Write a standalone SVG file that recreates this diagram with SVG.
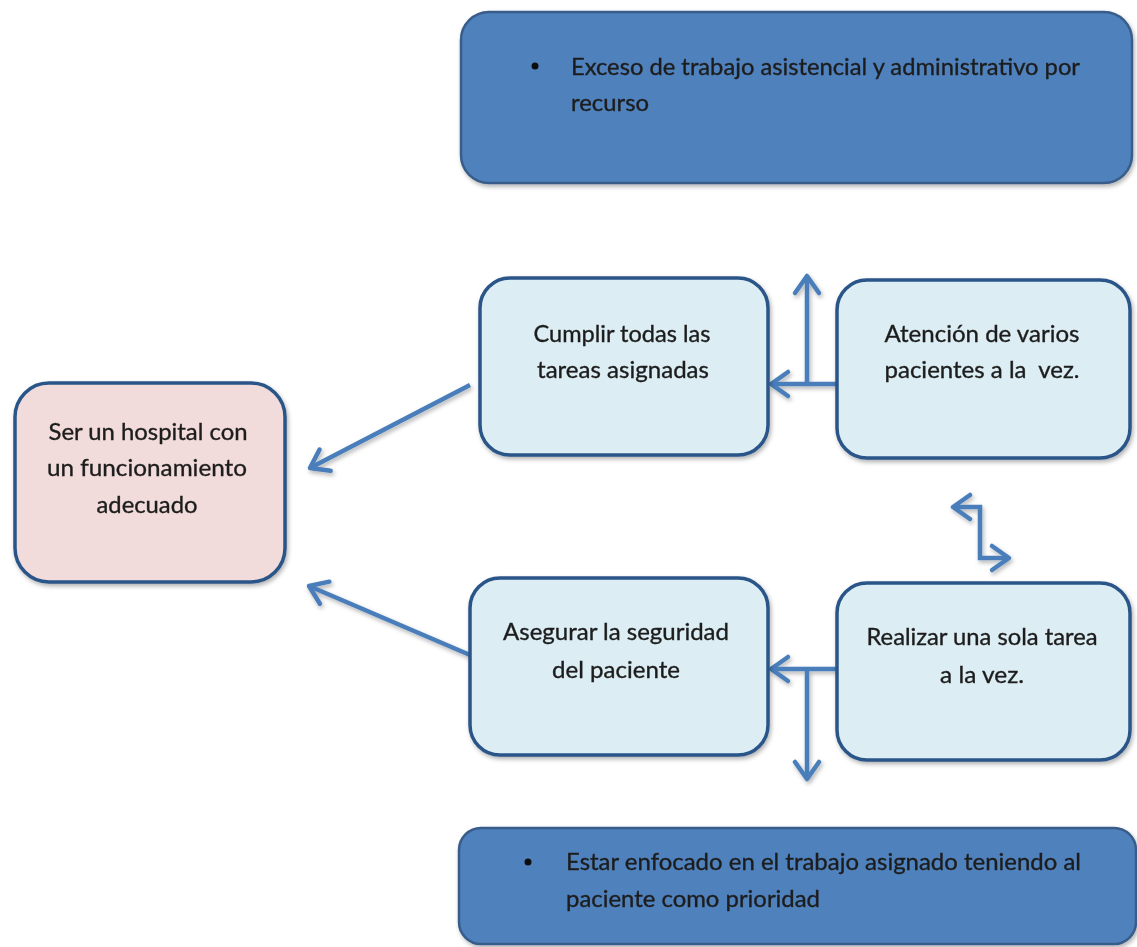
<svg xmlns="http://www.w3.org/2000/svg" width="1137" height="947" viewBox="0 0 1137 947">
  <style>
    .banner { fill: #4F81BD; stroke: #385D8A; stroke-width: 2.5; }
    .step { fill: #DCEEF4; stroke: #2B5588; stroke-width: 3.5; }
    .goal { fill: #F2DCDB; stroke: #2B5588; stroke-width: 3.5; }
    .label { font-family: Lato, "Liberation Sans", sans-serif; font-size: 23px; fill: #1E1E1E; stroke: #1E1E1E; stroke-width: 0.35; }
    .mid { text-anchor: middle; }
    .link { fill: none; stroke: #4A7EBB; stroke-width: 4.5; stroke-linejoin: miter; }
  </style>
  <defs>
    <filter id="shadow" x="-10%" y="-10%" width="130%" height="130%">
      <feDropShadow dx="1.5" dy="2.5" stdDeviation="2" flood-color="#000" flood-opacity="0.3"/>
    </filter>
    <marker id="head" markerUnits="userSpaceOnUse" viewBox="-20 -14 24 28" refX="0" refY="0" markerWidth="24" markerHeight="28" orient="auto-start-reverse" overflow="visible">
      <path d="M-17,-12 L0,0 L-17,12" fill="none" stroke="#4A7EBB" stroke-width="4.5" stroke-linecap="round" stroke-linejoin="round"/>
    </marker>
  </defs>

  <rect width="1137" height="947" fill="#FFFFFF"/>

  <!-- connectors -->
  <g id="connectors" filter="url(#shadow)">
    <line class="link" x1="470" y1="385" x2="310" y2="468" marker-end="url(#head)"/>
    <line class="link" x1="470" y1="655" x2="309" y2="586" marker-end="url(#head)"/>
    <line class="link" x1="839" y1="384" x2="771" y2="384" marker-end="url(#head)"/>
    <line class="link" x1="807" y1="384" x2="807" y2="276" marker-end="url(#head)"/>
    <line class="link" x1="839" y1="669" x2="771" y2="669" marker-end="url(#head)"/>
    <line class="link" x1="807" y1="669" x2="807" y2="779" marker-end="url(#head)"/>
    <path class="link" d="M953,507 H980 V558 H1009" marker-start="url(#head)" marker-end="url(#head)"/>
  </g>

  <!-- top banner -->
  <g id="node-exceso" filter="url(#shadow)">
    <rect class="banner" x="461" y="12" width="671" height="171" rx="28" ry="28"/>
    <circle cx="535" cy="66" r="3.5" fill="#111"/>
    <text class="label" x="571" y="75" textLength="509" lengthAdjust="spacingAndGlyphs">Exceso de trabajo asistencial y administrativo por</text>
    <text class="label" x="571" y="111" textLength="78" lengthAdjust="spacingAndGlyphs">recurso</text>
  </g>

  <!-- goal -->
  <g id="node-hospital" filter="url(#shadow)">
    <rect class="goal" x="15" y="383" width="270" height="199" rx="34" ry="34"/>
    <text class="label mid" x="148" y="440" textLength="199" lengthAdjust="spacingAndGlyphs">Ser un hospital con</text>
    <text class="label mid" x="147" y="476" textLength="200" lengthAdjust="spacingAndGlyphs">un funcionamiento</text>
    <text class="label mid" x="147" y="513" textLength="101" lengthAdjust="spacingAndGlyphs">adecuado</text>
  </g>

  <!-- upper row -->
  <g id="node-cumplir" filter="url(#shadow)">
    <rect class="step" x="480" y="278" width="288" height="177" rx="30" ry="30"/>
    <text class="label mid" x="622" y="342" textLength="177" lengthAdjust="spacingAndGlyphs">Cumplir todas las</text>
    <text class="label mid" x="623" y="378" textLength="172" lengthAdjust="spacingAndGlyphs">tareas asignadas</text>
  </g>

  <g id="node-atencion" filter="url(#shadow)">
    <rect class="step" x="837" y="280" width="293" height="178" rx="30" ry="30"/>
    <text class="label mid" x="982" y="342" textLength="195" lengthAdjust="spacingAndGlyphs">Atención de varios</text>
    <text class="label mid" x="982" y="378" textLength="195" lengthAdjust="spacingAndGlyphs" xml:space="preserve">pacientes a la  vez.</text>
  </g>

  <!-- lower row -->
  <g id="node-asegurar" filter="url(#shadow)">
    <rect class="step" x="470" y="578" width="298" height="177" rx="30" ry="30"/>
    <text class="label mid" x="616" y="640" textLength="226" lengthAdjust="spacingAndGlyphs">Asegurar la seguridad</text>
    <text class="label mid" x="616" y="678" textLength="128" lengthAdjust="spacingAndGlyphs">del paciente</text>
  </g>

  <g id="node-realizar" filter="url(#shadow)">
    <rect class="step" x="837" y="583" width="293" height="177" rx="30" ry="30"/>
    <text class="label mid" x="982" y="645" textLength="231" lengthAdjust="spacingAndGlyphs">Realizar una sola tarea</text>
    <text class="label mid" x="982" y="683" textLength="84" lengthAdjust="spacingAndGlyphs">a la vez.</text>
  </g>

  <!-- bottom banner -->
  <g id="node-enfocado" filter="url(#shadow)">
    <rect class="banner" x="459" y="828" width="677" height="116" rx="22" ry="22"/>
    <circle cx="528" cy="862" r="3.5" fill="#111"/>
    <text class="label" x="566" y="870" textLength="515" lengthAdjust="spacingAndGlyphs">Estar enfocado en el trabajo asignado teniendo al</text>
    <text class="label" x="566" y="907" textLength="254" lengthAdjust="spacingAndGlyphs">paciente como prioridad</text>
  </g>
</svg>
